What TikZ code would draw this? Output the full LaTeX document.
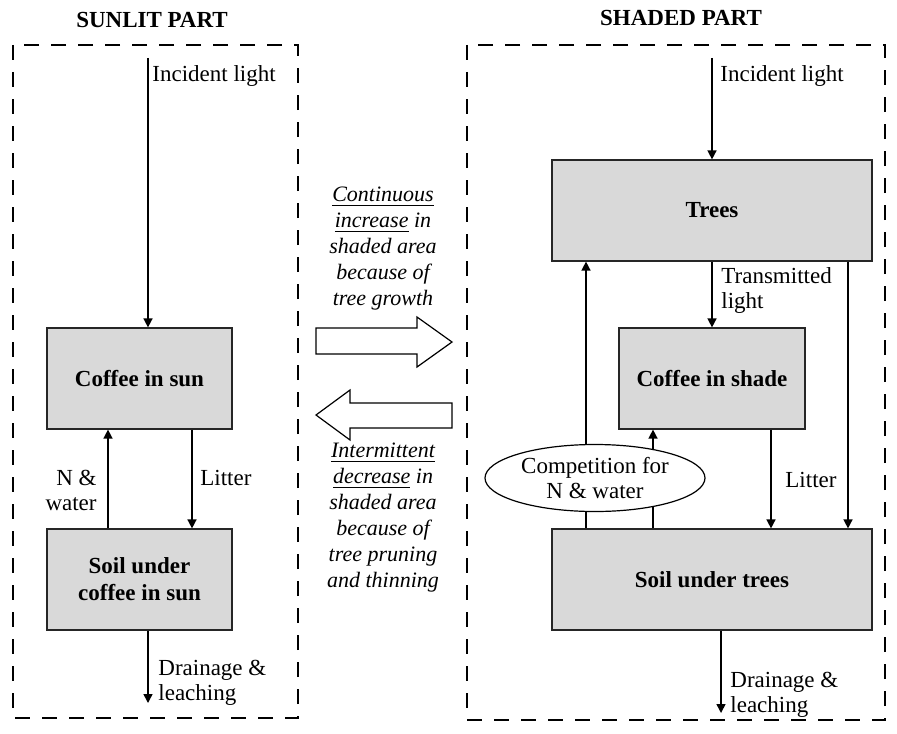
\documentclass[tikz,border=0pt]{standalone}
\usepackage{fontspec}
\setmainfont{Liberation Serif}
\usetikzlibrary{positioning,arrows.meta,calc,shapes.geometric}

\begin{document}
\begin{tikzpicture}[x=0.5pt, y=-0.5pt, >={Triangle[length=4.5pt,width=4.5pt]},
  every node/.style={font=\fontsize{11.5}{12.5}\selectfont, align=center},
  pool/.style={draw=black!85, line width=0.6pt, fill=black!15, minimum height=50.5pt,
    font=\fontsize{11.5}{13.5}\selectfont\bfseries},
  flow/.style={->, line width=0.75pt},
  lbl/.style={inner sep=0pt, align=left, anchor=west},
  part/.style={draw, line width=1pt, dash pattern=on 7.5pt off 6pt},
  bigarrow/.style={draw, line width=0.6pt, fill=white},
  note/.style={font=\fontsize{11}{13}\selectfont\itshape}]
  \useasboundingbox (0,0) rectangle (897,733);

  % the two parts
  \draw[part] (13,45) rectangle (298,718);
  \draw[part] (467,45) rectangle (885,720);
  \node[font=\fontsize{11.5}{12.5}\selectfont\bfseries] (suntitle) at (152,20) {SUNLIT PART};
  \node[font=\fontsize{11.5}{12.5}\selectfont\bfseries] (shadetitle) at (681,18) {SHADED PART};

  % sunlit part
  \node[pool, minimum width=92.5pt] (sunCoffee) at (139.5,378.5) {Coffee in sun};
  \node[pool, minimum width=92.5pt] (sunSoil) at (139.5,579.5) {Soil under\\coffee in sun};

  \coordinate (sunsky) at (148,58);
  \coordinate (sundrain) at (148,703);
  \coordinate (sunup) at (108,0);
  \coordinate (sundown) at (192,0);
  \draw[flow] (sunsky) -- (sunsky |- sunCoffee.north);
  \draw[flow] (sunSoil.north -| sunup) -- (sunCoffee.south -| sunup);
  \draw[flow] (sunCoffee.south -| sundown) -- (sunSoil.north -| sundown);
  \draw[flow] (sunSoil.south -| sundrain) -- (sundrain);

  \node[lbl] (sunlight) at (152,76) {Incident light};
  \node[inner sep=0pt, align=right, anchor=east] (sunnw) at (97,490) {N \&\\water};
  \node[lbl] (sunlitter) at (200,478) {Litter};
  \node[lbl] (sunleach) at (158,683) {Drainage \&\\leaching};

  % change of shaded area
  \draw[bigarrow] (316,328) -- (417,328) -- (417,317) -- (452,342) -- (417,367) -- (417,354) -- (316,354) -- cycle;
  \draw[bigarrow] (452,403) -- (350,403) -- (350,390) -- (316,415) -- (350,440) -- (350,428) -- (452,428) -- cycle;
  \node[note] (grow) at (383,249)
    {\underline{Continuous}\\\underline{increase} in\\shaded area\\because of\\tree growth};
  \node[note] (prune) at (383,518)
    {\underline{Intermittent}\\\underline{decrease} in\\shaded area\\because of\\tree pruning\\and thinning};

  % shaded part
  \node[pool, minimum width=160pt] (trees) at (712,210.5) {Trees};
  \node[pool, minimum width=93pt] (shadeCoffee) at (712,378.5) {Coffee in shade};
  \node[pool, minimum width=160pt] (shadeSoil) at (712,579.5) {Soil under trees};

  \coordinate (shadesky) at (712,58);
  \coordinate (shadedrain) at (721,713);
  \coordinate (treeup) at (586,0);
  \coordinate (coffeeup) at (653,0);
  \coordinate (coffeedown) at (771,0);
  \coordinate (treedown) at (848,0);
  \draw[flow] (shadesky) -- (trees.north);
  \draw[flow] (trees.south) -- (shadeCoffee.north);
  \draw[flow] (shadeSoil.north -| treeup) -- (trees.south -| treeup);
  \draw[flow] (shadeSoil.north -| coffeeup) -- (shadeCoffee.south -| coffeeup);
  \draw[flow] (shadeCoffee.south -| coffeedown) -- (shadeSoil.north -| coffeedown);
  \draw[flow] (trees.south -| treedown) -- (shadeSoil.north -| treedown);
  \draw[flow] (shadeSoil.south -| shadedrain) -- (shadedrain);

  \node[ellipse, draw, line width=0.6pt, fill=white, minimum width=110pt, minimum height=33.5pt,
        inner sep=0pt] (compete) at (595,478) {Competition for\\N \& water};

  \node[lbl] (shadelight) at (720,76) {Incident light};
  \node[lbl] (transmit) at (721,290) {Transmitted\\light};
  \node[lbl] (shadelitter) at (785,480) {Litter};
  \node[lbl] (shadeleach) at (730,695) {Drainage \&\\leaching};
\end{tikzpicture}
\end{document}
